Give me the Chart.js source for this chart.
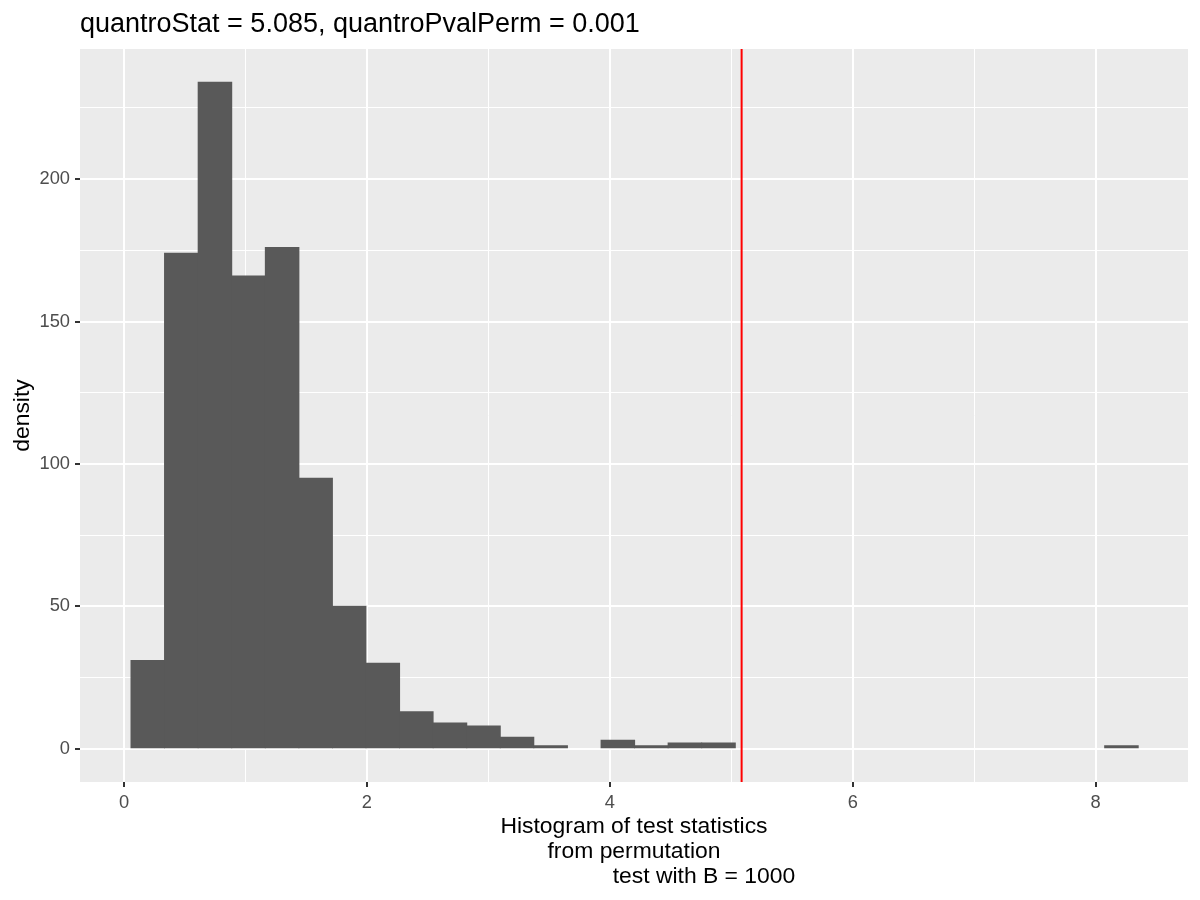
<!DOCTYPE html>
<html>
<head>
<meta charset="utf-8">
<script src="https://cdn.jsdelivr.net/npm/chart.js@4/dist/chart.umd.min.js"></script>
<style>
  body { margin: 0; background: #fff; }
  canvas { display: block; }
</style>
</head>
<body>
<canvas id="hist" width="1200" height="900"></canvas>
<script>
// bin centres (width ~0.276) and counts
const binCenters = [0.196, 0.472, 0.749, 1.025, 1.302, 1.578, 1.854, 2.131, 2.407, 2.684,
                    2.960, 3.236, 3.513, 3.789, 4.066, 4.342, 4.618, 4.895, 5.171, 5.448,
                    5.724, 6.000, 6.277, 6.553, 6.830, 7.106, 7.382, 7.659, 7.935, 8.212];
const binCounts = [31, 174, 234, 166, 176, 95, 50, 30, 13, 9,
                   8, 4, 1, 0, 3, 1, 2, 2, 0, 0,
                   0, 0, 0, 0, 0, 0, 0, 0, 0, 1];
const quantroStat = 5.085;

const xMajorTicks = [0, 2, 4, 6, 8];
const xMinorTicks = [1, 3, 5, 7];
const yMajorTicks = [0, 50, 100, 150, 200];
const yMinorTicks = [25, 75, 125, 175, 225];

const titleText = 'quantroStat = 5.085, quantroPvalPerm = 0.001';
const xTitle = ['Histogram of test statistics',
                'from permutation',
                '                      test with B = 1000'];
const yTitle = 'density';

const FONT = '"Liberation Sans", Arial, sans-serif';

// grey panel behind the plot + red line for the observed statistic
const panelPlugin = {
  id: 'panel',
  beforeDraw(chart) {
    const { ctx, chartArea: a } = chart;
    ctx.save();
    ctx.fillStyle = '#EBEBEB';
    ctx.fillRect(a.left, a.top, a.right - a.left, a.bottom - a.top);
    ctx.restore();
  },
  afterDatasetsDraw(chart) {
    const { ctx, chartArea: a } = chart;
    const x = chart.scales.x.getPixelForValue(quantroStat);
    ctx.save();
    ctx.strokeStyle = '#FF0000';
    ctx.lineWidth = 2;
    ctx.beginPath();
    ctx.moveTo(x, a.top);
    ctx.lineTo(x, a.bottom);
    ctx.stroke();
    ctx.restore();
  }
};

function tickList(major, minor) {
  return major.concat(minor).sort((a, b) => a - b).map(v => ({ value: v }));
}

function isMajor(c, major) {
  return !!(c.tick && major.includes(c.tick.value));
}

const ctx = document.getElementById('hist').getContext('2d');
new Chart(ctx, {
  type: 'bar',
  data: {
    datasets: [{
      data: binCenters.map((c, i) => ({ x: c, y: binCounts[i] })),
      backgroundColor: '#595959',
      borderWidth: 0,
      inflateAmount: c => (c.raw && c.raw.y > 0) ? 0.5 : 0,
      barPercentage: 1,
      categoryPercentage: 1
    }]
  },
  options: {
    responsive: false,
    animation: false,
    devicePixelRatio: 1,
    layout: { padding: { left: 0, right: 12, top: 0, bottom: 0 } },
    plugins: {
      legend: { display: false },
      tooltip: { enabled: false },
      title: {
        display: true,
        text: titleText,
        align: 'start',
        fullSize: false,
        color: '#000',
        font: { family: FONT, size: 27, weight: 'normal', lineHeight: 1.2 },
        padding: { top: 8, bottom: 8.6 }
      }
    },
    scales: {
      x: {
        type: 'linear',
        offset: false,
        min: -0.362,
        max: 8.76,
        afterBuildTicks: s => { s.ticks = tickList(xMajorTicks, xMinorTicks); },
        afterFit: s => { s.height = 118; },
        grid: {
          offset: false,
          color: '#FFFFFF',
          lineWidth: c => isMajor(c, xMajorTicks) ? 2 : 1,
          tickColor: c => isMajor(c, xMajorTicks) ? '#333333' : 'rgba(0,0,0,0)',
          tickLength: 5,
          tickWidth: 2
        },
        border: { display: false },
        ticks: {
          color: '#4D4D4D',
          font: { family: FONT, size: 18.3 },
          padding: 5,
          maxRotation: 0,
          autoSkip: false,
          callback: v => xMajorTicks.includes(v) ? String(v) : ''
        },
        title: {
          display: true,
          text: xTitle,
          color: '#000',
          font: { family: FONT, size: 22.9, lineHeight: 1.09 },
          padding: { top: 0, bottom: 10.5 }
        }
      },
      y: {
        min: -11.7,
        max: 245.7,
        afterBuildTicks: s => { s.ticks = tickList(yMajorTicks, yMinorTicks); },
        afterFit: s => { s.width = 80; },
        grid: {
          color: '#FFFFFF',
          lineWidth: c => isMajor(c, yMajorTicks) ? 2 : 1,
          tickColor: c => isMajor(c, yMajorTicks) ? '#333333' : 'rgba(0,0,0,0)',
          tickLength: 5,
          tickWidth: 2
        },
        border: { display: false },
        ticks: {
          color: '#4D4D4D',
          font: { family: FONT, size: 18.3 },
          padding: 5,
          autoSkip: false,
          callback: v => yMajorTicks.includes(v) ? String(v) : ''
        },
        title: {
          display: true,
          text: yTitle,
          color: '#000',
          font: { family: FONT, size: 22.9, lineHeight: 1.2 },
          padding: { top: 9.3, bottom: 0 }
        }
      }
    }
  },
  plugins: [panelPlugin]
});
</script>
</body>
</html>
